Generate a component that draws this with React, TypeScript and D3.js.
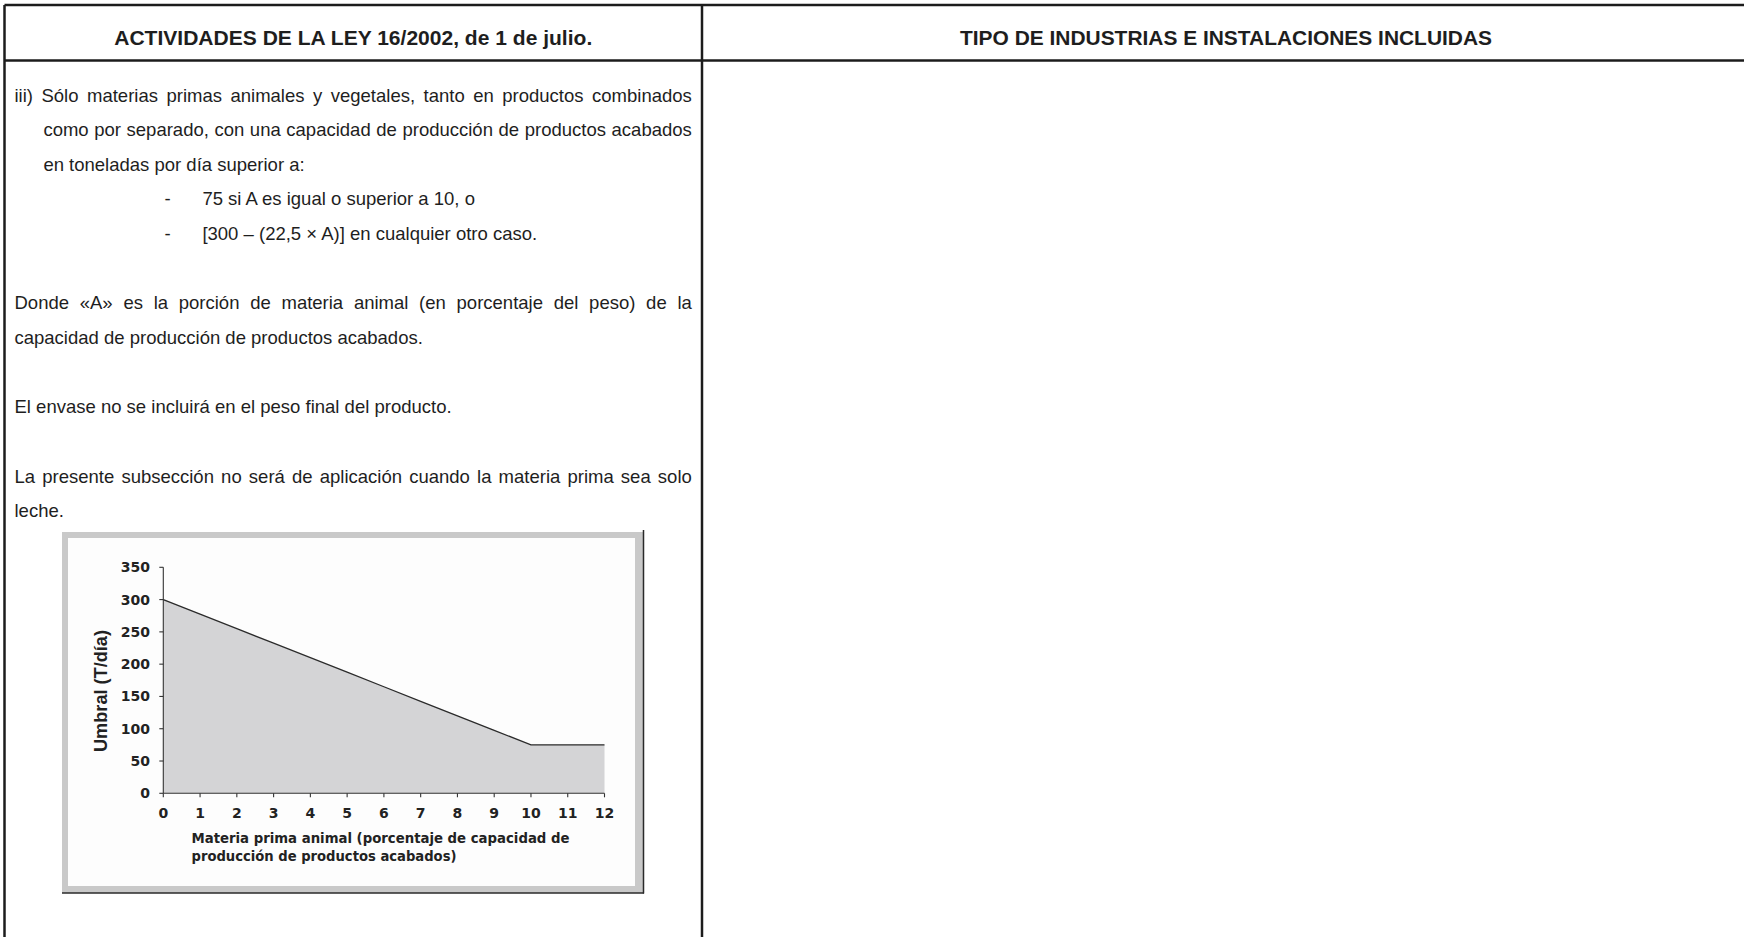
import React from "react";
import * as d3 from "d3";

// ---------- data ----------
const headerLeft = "ACTIVIDADES DE LA LEY 16/2002, de 1 de julio.";
const headerRight = "TIPO DE INDUSTRIAS E INSTALACIONES INCLUIDAS";

const bodyLines = [
  { text: "iii) Sólo materias primas animales y vegetales, tanto en productos combinados", row: 0, indent: 0, justify: true },
  { text: "como por separado, con una capacidad de producción de productos acabados", row: 1, indent: 1, justify: true },
  { text: "en toneladas por día superior a:", row: 2, indent: 1, justify: false },
  { text: "75 si A es igual o superior a 10, o", row: 3, indent: 2, justify: false },
  { text: "[300 – (22,5 × A)] en cualquier otro caso.", row: 4, indent: 2, justify: false },
  { text: "Donde «A» es la porción de materia animal (en porcentaje del peso) de la", row: 6, indent: 0, justify: true },
  { text: "capacidad de producción de productos acabados.", row: 7, indent: 0, justify: false },
  { text: "El envase no se incluirá en el peso final del producto.", row: 9, indent: 0, justify: false },
  { text: "La presente subsección no será de aplicación cuando la materia prima sea solo", row: 11, indent: 0, justify: true },
  { text: "leche.", row: 12, indent: 0, justify: false },
];

const animalShare = [0, 1, 2, 3, 4, 5, 6, 7, 8, 9, 10, 11, 12];
const thresholdTons = [300, 277.5, 255, 232.5, 210, 187.5, 165, 142.5, 120, 97.5, 75, 75, 75];
const yTickValues = [0, 50, 100, 150, 200, 250, 300, 350];
const yAxisTitle = "Umbral (T/día)";
const xAxisTitle = [
  "Materia prima animal (porcentaje de capacidad de",
  "producción de productos acabados)",
];

// ---------- helpers ----------
const BODY_FONT = "18.5px 'Liberation Sans'";
let ctx: CanvasRenderingContext2D | null = null;
function measure(s: string, font: string) {
  if (!ctx) {
    const c = document.createElement("canvas");
    ctx = c.getContext("2d");
  }
  if (!ctx) return s.length * 9;
  ctx.font = font;
  return ctx.measureText(s).width;
}

function JustifiedLine({ text, x0, x1, y }: { text: string; x0: number; x1: number; y: number }) {
  const words = text.split(" ");
  const widths = words.map((w) => measure(w, BODY_FONT));
  const total = widths.reduce((a, b) => a + b, 0);
  const gap = (x1 - x0 - total) / (words.length - 1);
  let x = x0;
  const items = words.map((w, i) => {
    const el = (
      <text key={i} x={x} y={y}>
        {w}
      </text>
    );
    x += widths[i] + gap;
    return el;
  });
  return <g>{items}</g>;
}

export default function App() {
  const W = 1744;
  const H = 937;
  const lineColor = "#1c1c1c";
  const textColor = "#1e1e1e";

  // table geometry
  const leftX = 4.5;
  const topY = 5;
  const divX = 702;
  const headY = 60.5;

  const bodyX1 = 691.8;
  const indentX = [14.5, 43.4, 202.4];
  const dashX = 164.6;
  const baseY = 101.5;
  const lineStep = 34.65;

  // chart
  const x = d3.scaleLinear().domain([0, 12]).range([163.3, 604.5]);
  const y = d3.scaleLinear().domain([0, 350]).range([793.3, 567.3]);
  const pts = animalShare.map((a, i) => [a, thresholdTons[i]] as [number, number]);
  const area = d3
    .area<[number, number]>()
    .x((d) => x(d[0]))
    .y0(y(0))
    .y1((d) => y(d[1]))(pts) as string;
  const line = d3
    .line<[number, number]>()
    .x((d) => x(d[0]))
    .y((d) => y(d[1]))(pts) as string;

  const chartFont = "'DejaVu Sans', Verdana, sans-serif";

  return (
    <div style={{ position: "absolute", left: 0, top: 0, width: W, height: H, background: "#fff" }}>
      <svg width={W} height={H} style={{ display: "block" }}>
        <rect x={0} y={0} width={W} height={H} fill="#fff" />

        {/* table lines */}
        <g stroke={lineColor} strokeWidth={2.5}>
          <line x1={leftX} y1={topY} x2={W} y2={topY} />
          <line x1={leftX} y1={headY} x2={W} y2={headY} />
          <line x1={leftX} y1={topY} x2={leftX} y2={H} />
          <line x1={divX} y1={topY} x2={divX} y2={H} />
        </g>

        {/* headers */}
        <g fontFamily="'Liberation Sans', Arial, sans-serif" fontWeight="bold" fontSize={19.5} fill={textColor}>
          <text x={(leftX + divX) / 2} y={45} textAnchor="middle" textLength={478} lengthAdjust="spacingAndGlyphs">
            {headerLeft}
          </text>
          <text x={1226} y={45} textAnchor="middle" textLength={532} lengthAdjust="spacingAndGlyphs">
            {headerRight}
          </text>
        </g>

        {/* body text */}
        <g fontFamily="'Liberation Sans', Arial, sans-serif" fontSize={18.5} fill={textColor}>
          {bodyLines.map((l, i) => {
            const yy = baseY + l.row * lineStep;
            const x0 = indentX[l.indent];
            if (l.justify) {
              return <JustifiedLine key={i} text={l.text} x0={x0} x1={bodyX1} y={yy} />;
            }
            return (
              <g key={i}>
                {l.indent === 2 && (
                  <text x={dashX} y={yy}>
                    -
                  </text>
                )}
                <text x={x0} y={yy}>
                  {l.text}
                </text>
              </g>
            );
          })}
        </g>

        {/* chart frame */}
        <g>
          <rect x={62} y={532} width={582} height={361} fill="#c9c9c9" />
          <rect x={68} y={538} width={567} height={348} fill="#fdfdfd" />
          <line x1={643.5} y1={530} x2={643.5} y2={893.5} stroke="#2a2a2a" strokeWidth={1.5} />
          <line x1={62} y1={893} x2={644} y2={893} stroke="#2a2a2a" strokeWidth={1.5} />
        </g>

        {/* plot */}
        <path d={area} fill="#d4d4d6" />
        <path d={line} fill="none" stroke="#2b2b2b" strokeWidth={1.3} />

        {/* axes */}
        <g stroke="#333" strokeWidth={1.1}>
          <line x1={x(0)} y1={y(0)} x2={x(0)} y2={y(350)} />
          <line x1={x(0)} y1={y(0)} x2={x(12)} y2={y(0)} />
          {yTickValues.map((v) => (
            <line key={"yt" + v} x1={x(0) - 4} x2={x(0)} y1={y(v)} y2={y(v)} />
          ))}
          {animalShare.map((v) => (
            <line key={"xt" + v} x1={x(v)} x2={x(v)} y1={y(0)} y2={y(0) + 4} />
          ))}
        </g>

        <g fontFamily={chartFont} fontWeight="bold" fontSize={14} fill="#222">
          {yTickValues.map((v) => (
            <text key={"yl" + v} x={150} y={y(v) + 5} textAnchor="end">
              {v}
            </text>
          ))}
          {animalShare.map((v) => (
            <text key={"xl" + v} x={x(v)} y={818} textAnchor="middle">
              {v}
            </text>
          ))}
        </g>

        <text
          transform={`translate(107,691) rotate(-90)`}
          textAnchor="middle"
          fontFamily="'Liberation Sans', Arial, sans-serif"
          fontWeight="bold"
          fontSize={18}
          fill="#222"
          textLength={122}
          lengthAdjust="spacingAndGlyphs"
        >
          {yAxisTitle}
        </text>

        <g fontFamily={chartFont} fontWeight="bold" fontSize={14} fill="#222">
          <text x={191.5} y={843} textLength={378} lengthAdjust="spacingAndGlyphs">
            {xAxisTitle[0]}
          </text>
          <text x={191.5} y={861} textLength={265} lengthAdjust="spacingAndGlyphs">
            {xAxisTitle[1]}
          </text>
        </g>
      </svg>
    </div>
  );
}
